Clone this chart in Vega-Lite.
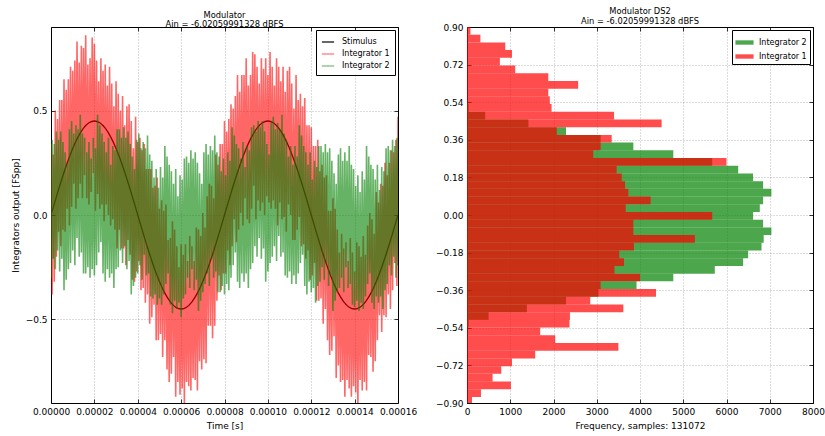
{
  "$schema": "https://vega.github.io/schema/vega-lite/v6.json",
  "autosize": {"type": "pad"},
  "padding": {"left": 10, "top": 6, "right": 0, "bottom": 0},
  "bounds": "flush",
  "spacing": 69,
  "config": {
    "font": "DejaVu Sans",
    "view": {"stroke": "#000000", "strokeWidth": 1},
    "axis": {
      "labelFontSize": 9, "titleFontSize": 9, "titleFontWeight": "normal",
      "labelColor": "#000000", "titleColor": "#000000",
      "domain": false, "tickColor": "#000000", "tickWidth": 0.8,
      "tickSize": -4, "labelPadding": 8, "titlePadding": 5,
      "gridColor": "#000000", "gridOpacity": 0.35, "gridDash": [1, 2], "gridWidth": 0.8,
      "zindex": 1, "labelFlush": false, "labelOverlap": false
    },
    "title": {"fontSize": 8.3, "fontWeight": "normal", "color": "#000000", "offset": -2, "lineHeight": 9.5, "anchor": "middle", "frame": "group"}
  },
  "resolve": {"scale": {"x": "independent", "y": "independent", "color": "independent"}, "legend": {"color": "independent"}},
  "datasets": {
    "stimulus": [
      {"t":0,"v":0},{"t":2.5e-6,"v":0.0878},{"t":5e-6,"v":0.1722},{"t":7.5e-6,"v":0.25},{"t":1e-5,"v":0.3182},{"t":1.25e-5,"v":0.3742},{"t":1.5e-5,"v":0.4157},{"t":1.75e-5,"v":0.4414},
      {"t":2e-5,"v":0.45},{"t":2.25e-5,"v":0.4414},{"t":2.5e-5,"v":0.4157},{"t":2.75e-5,"v":0.3742},{"t":3e-5,"v":0.3182},{"t":3.25e-5,"v":0.25},{"t":3.5e-5,"v":0.1722},{"t":3.75e-5,"v":0.0878},
      {"t":4e-5,"v":0},{"t":4.25e-5,"v":-0.0878},{"t":4.5e-5,"v":-0.1722},{"t":4.75e-5,"v":-0.25},{"t":5e-5,"v":-0.3182},{"t":5.25e-5,"v":-0.3742},{"t":5.5e-5,"v":-0.4157},{"t":5.75e-5,"v":-0.4414},
      {"t":6e-5,"v":-0.45},{"t":6.25e-5,"v":-0.4414},{"t":6.5e-5,"v":-0.4157},{"t":6.75e-5,"v":-0.3742},{"t":7e-5,"v":-0.3182},{"t":7.25e-5,"v":-0.25},{"t":7.5e-5,"v":-0.1722},{"t":7.75e-5,"v":-0.0878},
      {"t":8e-5,"v":0},{"t":8.25e-5,"v":0.0878},{"t":8.5e-5,"v":0.1722},{"t":8.75e-5,"v":0.25},{"t":9e-5,"v":0.3182},{"t":9.25e-5,"v":0.3742},{"t":9.5e-5,"v":0.4157},{"t":9.75e-5,"v":0.4414},
      {"t":1e-4,"v":0.45},{"t":1.025e-4,"v":0.4414},{"t":1.05e-4,"v":0.4157},{"t":1.075e-4,"v":0.3742},{"t":1.1e-4,"v":0.3182},{"t":1.125e-4,"v":0.25},{"t":1.15e-4,"v":0.1722},{"t":1.175e-4,"v":0.0878},
      {"t":1.2e-4,"v":0},{"t":1.225e-4,"v":-0.0878},{"t":1.25e-4,"v":-0.1722},{"t":1.275e-4,"v":-0.25},{"t":1.3e-4,"v":-0.3182},{"t":1.325e-4,"v":-0.3742},{"t":1.35e-4,"v":-0.4157},{"t":1.375e-4,"v":-0.4414},
      {"t":1.4e-4,"v":-0.45},{"t":1.425e-4,"v":-0.4414},{"t":1.45e-4,"v":-0.4157},{"t":1.475e-4,"v":-0.3742},{"t":1.5e-4,"v":-0.3182},{"t":1.525e-4,"v":-0.25},{"t":1.55e-4,"v":-0.1722},{"t":1.575e-4,"v":-0.0878},
      {"t":1.6e-4,"v":0}
    ],
    "integrators": [
      {"t":0,"a":0.34,"b":-0.30},{"t":5e-7,"a":-0.38,"b":0.36},{"t":1e-6,"a":0.29,"b":-0.21},{"t":1.5e-6,"a":-0.32,"b":0.34},{"t":2e-6,"a":0.50,"b":-0.26},
      {"t":2.5e-6,"a":-0.20,"b":0.40},{"t":3e-6,"a":0.46,"b":-0.17},{"t":3.5e-6,"a":-0.08,"b":0.36},{"t":4e-6,"a":0.55,"b":-0.27},{"t":4.5e-6,"a":-0.15,"b":0.40},
      {"t":5e-6,"a":0.55,"b":-0.21},{"t":5.5e-6,"a":-0.07,"b":0.35},{"t":6e-6,"a":0.65,"b":-0.36},{"t":6.5e-6,"a":-0.08,"b":0.30},{"t":7e-6,"a":0.60,"b":-0.31},
      {"t":7.5e-6,"a":0.03,"b":0.25},{"t":8e-6,"a":0.65,"b":-0.26},{"t":8.5e-6,"a":-0.05,"b":0.41},{"t":9e-6,"a":0.71,"b":-0.23},{"t":9.5e-6,"a":0.04,"b":0.45},
      {"t":1e-5,"a":0.69,"b":-0.17},{"t":1.05e-5,"a":0.15,"b":0.39},{"t":1.1e-5,"a":0.74,"b":-0.24},{"t":1.15e-5,"a":0.03,"b":0.43},{"t":1.2e-5,"a":0.83,"b":-0.11},
      {"t":1.25e-5,"a":0.08,"b":0.41},{"t":1.3e-5,"a":0.73,"b":-0.20},{"t":1.35e-5,"a":0.15,"b":0.48},{"t":1.4e-5,"a":0.81,"b":-0.18},{"t":1.45e-5,"a":0.08,"b":0.39},
      {"t":1.5e-5,"a":0.80,"b":-0.28},{"t":1.55e-5,"a":0.19,"b":0.37},{"t":1.6e-5,"a":0.86,"b":-0.28},{"t":1.65e-5,"a":0.08,"b":0.30},{"t":1.7e-5,"a":0.72,"b":-0.25},
      {"t":1.75e-5,"a":0.05,"b":0.35},{"t":1.8e-5,"a":0.75,"b":-0.30},{"t":1.85e-5,"a":0.11,"b":0.27},{"t":1.9e-5,"a":0.85,"b":-0.26},{"t":1.95e-5,"a":0.20,"b":0.37},
      {"t":2e-5,"a":0.82,"b":-0.29},{"t":2.05e-5,"a":0.02,"b":0.32},{"t":2.1e-5,"a":0.74,"b":-0.24},{"t":2.15e-5,"a":0.10,"b":0.48},{"t":2.2e-5,"a":0.64,"b":-0.18},
      {"t":2.25e-5,"a":0.03,"b":0.43},{"t":2.3e-5,"a":0.75,"b":-0.13},{"t":2.35e-5,"a":0.05,"b":0.39},{"t":2.4e-5,"a":0.69,"b":-0.28},{"t":2.45e-5,"a":-0.03,"b":0.35},
      {"t":2.5e-5,"a":0.72,"b":-0.32},{"t":2.55e-5,"a":0.05,"b":0.30},{"t":2.6e-5,"a":0.62,"b":-0.26},{"t":2.65e-5,"a":0.00,"b":0.37},{"t":2.7e-5,"a":0.71,"b":-0.30},
      {"t":2.75e-5,"a":-0.05,"b":0.24},{"t":2.8e-5,"a":0.63,"b":-0.28},{"t":2.85e-5,"a":-0.02,"b":0.33},{"t":2.9e-5,"a":0.52,"b":-0.35},{"t":2.95e-5,"a":-0.07,"b":0.31},
      {"t":3e-5,"a":0.64,"b":-0.26},{"t":3.05e-5,"a":-0.16,"b":0.41},{"t":3.1e-5,"a":0.58,"b":-0.25},{"t":3.15e-5,"a":-0.07,"b":0.41},{"t":3.2e-5,"a":0.50,"b":-0.17},
      {"t":3.25e-5,"a":-0.16,"b":0.37},{"t":3.3e-5,"a":0.57,"b":-0.23},{"t":3.35e-5,"a":-0.16,"b":0.42},{"t":3.4e-5,"a":0.43,"b":-0.15},{"t":3.45e-5,"a":-0.24,"b":0.37},
      {"t":3.5e-5,"a":0.52,"b":-0.26},{"t":3.55e-5,"a":-0.12,"b":0.40},{"t":3.6e-5,"a":0.53,"b":-0.22},{"t":3.65e-5,"a":-0.19,"b":0.34},{"t":3.7e-5,"a":0.45,"b":-0.38},
      {"t":3.75e-5,"a":-0.31,"b":0.28},{"t":3.8e-5,"a":0.32,"b":-0.34},{"t":3.85e-5,"a":-0.32,"b":0.22},{"t":3.9e-5,"a":0.47,"b":-0.30},{"t":3.95e-5,"a":-0.27,"b":0.36},
      {"t":4e-5,"a":0.35,"b":-0.28},{"t":4.05e-5,"a":-0.22,"b":0.39},{"t":4.1e-5,"a":0.37,"b":-0.24},{"t":4.15e-5,"a":-0.36,"b":0.32},{"t":4.2e-5,"a":0.31,"b":-0.31},
      {"t":4.25e-5,"a":-0.35,"b":0.35},{"t":4.3e-5,"a":0.34,"b":-0.19},{"t":4.35e-5,"a":-0.42,"b":0.32},{"t":4.4e-5,"a":0.22,"b":-0.29},{"t":4.45e-5,"a":-0.38,"b":0.38},
      {"t":4.5e-5,"a":0.22,"b":-0.28},{"t":4.55e-5,"a":-0.52,"b":0.29},{"t":4.6e-5,"a":0.22,"b":-0.39},{"t":4.65e-5,"a":-0.49,"b":0.26},{"t":4.7e-5,"a":0.13,"b":-0.40},
      {"t":4.75e-5,"a":-0.43,"b":0.18},{"t":4.8e-5,"a":0.14,"b":-0.38},{"t":4.85e-5,"a":-0.60,"b":0.22},{"t":4.9e-5,"a":0.18,"b":-0.43},{"t":4.95e-5,"a":-0.60,"b":0.13},
      {"t":5e-5,"a":0.03,"b":-0.40},{"t":5.05e-5,"a":-0.57,"b":0.23},{"t":5.1e-5,"a":0.07,"b":-0.43},{"t":5.15e-5,"a":-0.68,"b":0.18},{"t":5.2e-5,"a":0.02,"b":-0.38},
      {"t":5.25e-5,"a":-0.60,"b":0.33},{"t":5.3e-5,"a":0.05,"b":-0.33},{"t":5.35e-5,"a":-0.74,"b":0.28},{"t":5.4e-5,"a":-0.12,"b":-0.28},{"t":5.45e-5,"a":-0.80,"b":0.24},
      {"t":5.5e-5,"a":-0.11,"b":-0.43},{"t":5.55e-5,"a":-0.76,"b":0.21},{"t":5.6e-5,"a":-0.03,"b":-0.47},{"t":5.65e-5,"a":-0.68,"b":0.15},{"t":5.7e-5,"a":-0.07,"b":-0.41},
      {"t":5.75e-5,"a":-0.87,"b":0.22},{"t":5.8e-5,"a":-0.15,"b":-0.45},{"t":5.85e-5,"a":-0.80,"b":0.09},{"t":5.9e-5,"a":-0.25,"b":-0.42},{"t":5.95e-5,"a":-0.86,"b":0.19},
      {"t":6e-5,"a":-0.14,"b":-0.49},{"t":6.05e-5,"a":-0.83,"b":0.17},{"t":6.1e-5,"a":-0.19,"b":-0.40},{"t":6.15e-5,"a":-0.90,"b":0.27},{"t":6.2e-5,"a":-0.14,"b":-0.38},
      {"t":6.25e-5,"a":-0.80,"b":0.28},{"t":6.3e-5,"a":-0.22,"b":-0.30},{"t":6.35e-5,"a":-0.82,"b":0.25},{"t":6.4e-5,"a":-0.10,"b":-0.35},{"t":6.45e-5,"a":-0.84,"b":0.31},
      {"t":6.5e-5,"a":-0.15,"b":-0.26},{"t":6.55e-5,"a":-0.78,"b":0.27},{"t":6.6e-5,"a":-0.22,"b":-0.36},{"t":6.65e-5,"a":-0.79,"b":0.30},{"t":6.7e-5,"a":-0.06,"b":-0.31},
      {"t":6.75e-5,"a":-0.84,"b":0.25},{"t":6.8e-5,"a":-0.07,"b":-0.46},{"t":6.85e-5,"a":-0.70,"b":0.20},{"t":6.9e-5,"a":-0.10,"b":-0.41},{"t":6.95e-5,"a":-0.74,"b":0.15},
      {"t":7e-5,"a":0.01,"b":-0.37},{"t":7.05e-5,"a":-0.69,"b":0.30},{"t":7.1e-5,"a":-0.06,"b":-0.33},{"t":7.15e-5,"a":-0.71,"b":0.34},{"t":7.2e-5,"a":0.09,"b":-0.28},
      {"t":7.25e-5,"a":-0.53,"b":0.29},{"t":7.3e-5,"a":0.15,"b":-0.34},{"t":7.35e-5,"a":-0.53,"b":0.33},{"t":7.4e-5,"a":0.14,"b":-0.21},{"t":7.45e-5,"a":-0.59,"b":0.31},
      {"t":7.5e-5,"a":0.08,"b":-0.30},{"t":7.55e-5,"a":-0.53,"b":0.38},{"t":7.6e-5,"a":0.29,"b":-0.27},{"t":7.65e-5,"a":-0.41,"b":0.30},{"t":7.7e-5,"a":0.24,"b":-0.37},
      {"t":7.75e-5,"a":-0.29,"b":0.28},{"t":7.8e-5,"a":0.34,"b":-0.37},{"t":7.85e-5,"a":-0.36,"b":0.21},{"t":7.9e-5,"a":0.34,"b":-0.34},{"t":7.95e-5,"a":-0.28,"b":0.27},
      {"t":8e-5,"a":0.45,"b":-0.38},{"t":8.05e-5,"a":-0.28,"b":0.19},{"t":8.1e-5,"a":0.40,"b":-0.33},{"t":8.15e-5,"a":-0.17,"b":0.30},{"t":8.2e-5,"a":0.46,"b":-0.36},
      {"t":8.25e-5,"a":-0.24,"b":0.26},{"t":8.3e-5,"a":0.53,"b":-0.30},{"t":8.35e-5,"a":-0.15,"b":0.42},{"t":8.4e-5,"a":0.51,"b":-0.24},{"t":8.45e-5,"a":-0.02,"b":0.38},
      {"t":8.5e-5,"a":0.57,"b":-0.18},{"t":8.55e-5,"a":-0.13,"b":0.34},{"t":8.6e-5,"a":0.67,"b":-0.32},{"t":8.65e-5,"a":-0.07,"b":0.32},{"t":8.7e-5,"a":0.59,"b":-0.35},
      {"t":8.75e-5,"a":0.01,"b":0.27},{"t":8.8e-5,"a":0.67,"b":-0.28},{"t":8.85e-5,"a":-0.05,"b":0.35},{"t":8.9e-5,"a":0.67,"b":-0.32},{"t":8.95e-5,"a":0.08,"b":0.23},
      {"t":9e-5,"a":0.75,"b":-0.28},{"t":9.05e-5,"a":-0.02,"b":0.33},{"t":9.1e-5,"a":0.62,"b":-0.35},{"t":9.15e-5,"a":-0.04,"b":0.31},{"t":9.2e-5,"a":0.67,"b":-0.26},
      {"t":9.25e-5,"a":0.03,"b":0.42},{"t":9.3e-5,"a":0.78,"b":-0.23},{"t":9.35e-5,"a":0.14,"b":0.43},{"t":9.4e-5,"a":0.77,"b":-0.15},{"t":9.45e-5,"a":-0.02,"b":0.40},
      {"t":9.5e-5,"a":0.71,"b":-0.20},{"t":9.55e-5,"a":0.07,"b":0.45},{"t":9.6e-5,"a":0.63,"b":-0.11},{"t":9.65e-5,"a":0.02,"b":0.42},{"t":9.7e-5,"a":0.75,"b":-0.21},
      {"t":9.75e-5,"a":0.06,"b":0.45},{"t":9.8e-5,"a":0.70,"b":-0.16},{"t":9.85e-5,"a":0.00,"b":0.40},{"t":9.9e-5,"a":0.75,"b":-0.32},{"t":9.95e-5,"a":0.09,"b":0.34},
      {"t":1e-4,"a":0.67,"b":-0.27},{"t":1.005e-4,"a":0.06,"b":0.29},{"t":1.01e-4,"a":0.78,"b":-0.23},{"t":1.015e-4,"a":0.03,"b":0.44},{"t":1.02e-4,"a":0.71,"b":-0.20},
      {"t":1.025e-4,"a":0.07,"b":0.47},{"t":1.03e-4,"a":0.62,"b":-0.15},{"t":1.035e-4,"a":0.03,"b":0.41},{"t":1.04e-4,"a":0.75,"b":-0.22},{"t":1.045e-4,"a":-0.05,"b":0.44},
      {"t":1.05e-4,"a":0.71,"b":-0.10},{"t":1.055e-4,"a":0.06,"b":0.41},{"t":1.06e-4,"a":0.64,"b":-0.20},{"t":1.065e-4,"a":-0.02,"b":0.48},{"t":1.07e-4,"a":0.71,"b":-0.18},
      {"t":1.075e-4,"a":-0.01,"b":0.39},{"t":1.08e-4,"a":0.59,"b":-0.29},{"t":1.085e-4,"a":-0.08,"b":0.36},{"t":1.09e-4,"a":0.69,"b":-0.30},{"t":1.095e-4,"a":0.05,"b":0.28},
      {"t":1.1e-4,"a":0.71,"b":-0.27},{"t":1.105e-4,"a":0.00,"b":0.33},{"t":1.11e-4,"a":0.63,"b":-0.33},{"t":1.115e-4,"a":-0.12,"b":0.24},{"t":1.12e-4,"a":0.51,"b":-0.29},
      {"t":1.125e-4,"a":-0.12,"b":0.33},{"t":1.13e-4,"a":0.67,"b":-0.33},{"t":1.135e-4,"a":-0.07,"b":0.28},{"t":1.14e-4,"a":0.55,"b":-0.28},{"t":1.145e-4,"a":-0.01,"b":0.43},
      {"t":1.15e-4,"a":0.58,"b":-0.23},{"t":1.155e-4,"a":-0.15,"b":0.38},{"t":1.16e-4,"a":0.52,"b":-0.19},{"t":1.165e-4,"a":-0.14,"b":0.33},{"t":1.17e-4,"a":0.56,"b":-0.34},
      {"t":1.175e-4,"a":-0.21,"b":0.30},{"t":1.18e-4,"a":0.43,"b":-0.38},{"t":1.185e-4,"a":-0.17,"b":0.24},{"t":1.19e-4,"a":0.43,"b":-0.32},{"t":1.195e-4,"a":-0.31,"b":0.30},
      {"t":1.2e-4,"a":0.42,"b":-0.37},{"t":1.205e-4,"a":-0.29,"b":0.17},{"t":1.21e-4,"a":0.33,"b":-0.35},{"t":1.215e-4,"a":-0.23,"b":0.26},{"t":1.22e-4,"a":0.33,"b":-0.42},
      {"t":1.225e-4,"a":-0.41,"b":0.23},{"t":1.23e-4,"a":0.36,"b":-0.34},{"t":1.235e-4,"a":-0.41,"b":0.33},{"t":1.24e-4,"a":0.21,"b":-0.32},{"t":1.245e-4,"a":-0.40,"b":0.33},
      {"t":1.25e-4,"a":0.24,"b":-0.25},{"t":1.255e-4,"a":-0.52,"b":0.30},{"t":1.26e-4,"a":0.18,"b":-0.31},{"t":1.265e-4,"a":-0.45,"b":0.34},{"t":1.27e-4,"a":0.19,"b":-0.23},
      {"t":1.275e-4,"a":-0.60,"b":0.30},{"t":1.28e-4,"a":0.02,"b":-0.34},{"t":1.285e-4,"a":-0.67,"b":0.32},{"t":1.29e-4,"a":0.02,"b":-0.29},{"t":1.295e-4,"a":-0.65,"b":0.26},
      {"t":1.3e-4,"a":0.08,"b":-0.46},{"t":1.305e-4,"a":-0.58,"b":0.20},{"t":1.31e-4,"a":0.03,"b":-0.41},{"t":1.315e-4,"a":-0.78,"b":0.15},{"t":1.32e-4,"a":-0.07,"b":-0.37},
      {"t":1.325e-4,"a":-0.72,"b":0.29},{"t":1.33e-4,"a":-0.18,"b":-0.35},{"t":1.335e-4,"a":-0.80,"b":0.32},{"t":1.34e-4,"a":-0.09,"b":-0.30},{"t":1.345e-4,"a":-0.79,"b":0.26},
      {"t":1.35e-4,"a":-0.16,"b":-0.37},{"t":1.355e-4,"a":-0.87,"b":0.30},{"t":1.36e-4,"a":-0.13,"b":-0.25},{"t":1.365e-4,"a":-0.79,"b":0.26},{"t":1.37e-4,"a":-0.22,"b":-0.35},
      {"t":1.375e-4,"a":-0.83,"b":0.33},{"t":1.38e-4,"a":-0.11,"b":-0.33},{"t":1.385e-4,"a":-0.87,"b":0.24},{"t":1.39e-4,"a":-0.18,"b":-0.43},{"t":1.395e-4,"a":-0.82,"b":0.22},
      {"t":1.4e-4,"a":-0.27,"b":-0.44},{"t":1.405e-4,"a":-0.85,"b":0.14},{"t":1.41e-4,"a":-0.13,"b":-0.41},{"t":1.415e-4,"a":-0.92,"b":0.19},{"t":1.42e-4,"a":-0.15,"b":-0.46},
      {"t":1.425e-4,"a":-0.79,"b":0.11},{"t":1.43e-4,"a":-0.20,"b":-0.42},{"t":1.435e-4,"a":-0.84,"b":0.21},{"t":1.44e-4,"a":-0.10,"b":-0.45},{"t":1.445e-4,"a":-0.80,"b":0.17},
      {"t":1.45e-4,"a":-0.19,"b":-0.39},{"t":1.455e-4,"a":-0.84,"b":0.33},{"t":1.46e-4,"a":-0.05,"b":-0.33},{"t":1.465e-4,"a":-0.67,"b":0.28},{"t":1.47e-4,"a":0.01,"b":-0.28},
      {"t":1.475e-4,"a":-0.68,"b":0.24},{"t":1.48e-4,"a":-0.02,"b":-0.42},{"t":1.485e-4,"a":-0.75,"b":0.22},{"t":1.49e-4,"a":-0.09,"b":-0.45},{"t":1.495e-4,"a":-0.70,"b":0.17},
      {"t":1.5e-4,"a":0.11,"b":-0.39},{"t":1.505e-4,"a":-0.60,"b":0.24},{"t":1.51e-4,"a":0.06,"b":-0.42},{"t":1.515e-4,"a":-0.48,"b":0.12},{"t":1.52e-4,"a":0.15,"b":-0.39},
      {"t":1.525e-4,"a":-0.56,"b":0.23},{"t":1.53e-4,"a":0.14,"b":-0.45},{"t":1.535e-4,"a":-0.48,"b":0.21},{"t":1.54e-4,"a":0.25,"b":-0.36},{"t":1.545e-4,"a":-0.49,"b":0.32},
      {"t":1.55e-4,"a":0.19,"b":-0.33},{"t":1.555e-4,"a":-0.38,"b":0.33},{"t":1.56e-4,"a":0.25,"b":-0.24},{"t":1.565e-4,"a":-0.45,"b":0.31},{"t":1.57e-4,"a":0.31,"b":-0.29},
      {"t":1.575e-4,"a":-0.36,"b":0.36},{"t":1.58e-4,"a":0.30,"b":-0.20},{"t":1.585e-4,"a":-0.23,"b":0.33},{"t":1.59e-4,"a":0.36,"b":-0.30},{"t":1.595e-4,"a":-0.34,"b":0.37},
      {"t":1.6e-4,"a":0.47,"b":-0.24}
    ],
    "hist": [
      {"s":"Integrator 2","lo":0.4941,"hi":0.531,"n":40},
      {"s":"Integrator 2","lo":0.4572,"hi":0.4941,"n":420},
      {"s":"Integrator 2","lo":0.4203,"hi":0.4572,"n":1420},
      {"s":"Integrator 2","lo":0.3834,"hi":0.4203,"n":2290},
      {"s":"Integrator 2","lo":0.3465,"hi":0.3834,"n":3090},
      {"s":"Integrator 2","lo":0.3096,"hi":0.3465,"n":3846},
      {"s":"Integrator 2","lo":0.2727,"hi":0.3096,"n":4770},
      {"s":"Integrator 2","lo":0.2358,"hi":0.2727,"n":5670},
      {"s":"Integrator 2","lo":0.1989,"hi":0.2358,"n":6270},
      {"s":"Integrator 2","lo":0.162,"hi":0.1989,"n":6615},
      {"s":"Integrator 2","lo":0.1251,"hi":0.162,"n":6846},
      {"s":"Integrator 2","lo":0.0882,"hi":0.1251,"n":7038},
      {"s":"Integrator 2","lo":0.0513,"hi":0.0882,"n":6846},
      {"s":"Integrator 2","lo":0.0144,"hi":0.0513,"n":6770},
      {"s":"Integrator 2","lo":-0.0225,"hi":0.0144,"n":6615},
      {"s":"Integrator 2","lo":-0.0594,"hi":-0.0225,"n":6846},
      {"s":"Integrator 2","lo":-0.0963,"hi":-0.0594,"n":7038},
      {"s":"Integrator 2","lo":-0.1332,"hi":-0.0963,"n":6860},
      {"s":"Integrator 2","lo":-0.1701,"hi":-0.1332,"n":6810},
      {"s":"Integrator 2","lo":-0.207,"hi":-0.1701,"n":6500},
      {"s":"Integrator 2","lo":-0.2439,"hi":-0.207,"n":6385},
      {"s":"Integrator 2","lo":-0.2808,"hi":-0.2439,"n":5730},
      {"s":"Integrator 2","lo":-0.3177,"hi":-0.2808,"n":4770},
      {"s":"Integrator 2","lo":-0.3546,"hi":-0.3177,"n":3920},
      {"s":"Integrator 2","lo":-0.3915,"hi":-0.3546,"n":3040},
      {"s":"Integrator 2","lo":-0.4284,"hi":-0.3915,"n":2290},
      {"s":"Integrator 2","lo":-0.4653,"hi":-0.4284,"n":1385},
      {"s":"Integrator 2","lo":-0.5022,"hi":-0.4653,"n":500},
      {"s":"Integrator 2","lo":-0.5391,"hi":-0.5022,"n":40},
      {"s":"Integrator 1","lo":0.8631,"hi":0.9,"n":80},
      {"s":"Integrator 1","lo":0.8262,"hi":0.8631,"n":310},
      {"s":"Integrator 1","lo":0.7893,"hi":0.8262,"n":885},
      {"s":"Integrator 1","lo":0.7524,"hi":0.7893,"n":1040},
      {"s":"Integrator 1","lo":0.7155,"hi":0.7524,"n":760},
      {"s":"Integrator 1","lo":0.6786,"hi":0.7155,"n":1115},
      {"s":"Integrator 1","lo":0.6417,"hi":0.6786,"n":1880},
      {"s":"Integrator 1","lo":0.6048,"hi":0.6417,"n":2570},
      {"s":"Integrator 1","lo":0.5679,"hi":0.6048,"n":1880},
      {"s":"Integrator 1","lo":0.531,"hi":0.5679,"n":1915},
      {"s":"Integrator 1","lo":0.4941,"hi":0.531,"n":1955},
      {"s":"Integrator 1","lo":0.4572,"hi":0.4941,"n":3400},
      {"s":"Integrator 1","lo":0.4203,"hi":0.4572,"n":4500},
      {"s":"Integrator 1","lo":0.3834,"hi":0.4203,"n":2077},
      {"s":"Integrator 1","lo":0.3465,"hi":0.3834,"n":3346},
      {"s":"Integrator 1","lo":0.3096,"hi":0.3465,"n":3090},
      {"s":"Integrator 1","lo":0.2727,"hi":0.3096,"n":2920},
      {"s":"Integrator 1","lo":0.2358,"hi":0.2727,"n":6000},
      {"s":"Integrator 1","lo":0.1989,"hi":0.2358,"n":3460},
      {"s":"Integrator 1","lo":0.162,"hi":0.1989,"n":3577},
      {"s":"Integrator 1","lo":0.1251,"hi":0.162,"n":3654},
      {"s":"Integrator 1","lo":0.0882,"hi":0.1251,"n":3730},
      {"s":"Integrator 1","lo":0.0513,"hi":0.0882,"n":4246},
      {"s":"Integrator 1","lo":0.0144,"hi":0.0513,"n":3670},
      {"s":"Integrator 1","lo":-0.0225,"hi":0.0144,"n":5670},
      {"s":"Integrator 1","lo":-0.0594,"hi":-0.0225,"n":3846},
      {"s":"Integrator 1","lo":-0.0963,"hi":-0.0594,"n":3846},
      {"s":"Integrator 1","lo":-0.1332,"hi":-0.0963,"n":5270},
      {"s":"Integrator 1","lo":-0.1701,"hi":-0.1332,"n":3860},
      {"s":"Integrator 1","lo":-0.207,"hi":-0.1701,"n":3520},
      {"s":"Integrator 1","lo":-0.2439,"hi":-0.207,"n":3630},
      {"s":"Integrator 1","lo":-0.2808,"hi":-0.2439,"n":3410},
      {"s":"Integrator 1","lo":-0.3177,"hi":-0.2808,"n":4000},
      {"s":"Integrator 1","lo":-0.3546,"hi":-0.3177,"n":3090},
      {"s":"Integrator 1","lo":-0.3915,"hi":-0.3546,"n":4370},
      {"s":"Integrator 1","lo":-0.4284,"hi":-0.3915,"n":2850},
      {"s":"Integrator 1","lo":-0.4653,"hi":-0.4284,"n":3615},
      {"s":"Integrator 1","lo":-0.5022,"hi":-0.4653,"n":2380},
      {"s":"Integrator 1","lo":-0.5391,"hi":-0.5022,"n":2370},
      {"s":"Integrator 1","lo":-0.576,"hi":-0.5391,"n":1692},
      {"s":"Integrator 1","lo":-0.6129,"hi":-0.576,"n":2040},
      {"s":"Integrator 1","lo":-0.6498,"hi":-0.6129,"n":3500},
      {"s":"Integrator 1","lo":-0.6867,"hi":-0.6498,"n":1577},
      {"s":"Integrator 1","lo":-0.7236,"hi":-0.6867,"n":1040},
      {"s":"Integrator 1","lo":-0.7605,"hi":-0.7236,"n":792},
      {"s":"Integrator 1","lo":-0.7974,"hi":-0.7605,"n":592},
      {"s":"Integrator 1","lo":-0.8343,"hi":-0.7974,"n":1015},
      {"s":"Integrator 1","lo":-0.8712,"hi":-0.8343,"n":323},
      {"s":"Integrator 1","lo":-0.9081,"hi":-0.8712,"n":115},
      {"s":"Integrator 1","lo":-0.945,"hi":-0.9081,"n":20}
    ]
  },
  "hconcat": [
    {
      "width": 347,
      "height": 376,
      "title": {"text": ["Modulator", "Ain = -6.02059991328 dBFS"]},
      "resolve": {"axis": {"x": "independent", "y": "independent"}},
      "layer": [
        {
          "data": {"name": "stimulus"},
          "mark": {"type": "line", "strokeWidth": 1.3, "interpolate": "natural", "clip": true},
          "encoding": {
            "x": {"field": "t", "type": "quantitative", "title": "Time [s]",
                  "scale": {"domain": [0, 0.00016], "nice": false, "zero": false},
                  "axis": {"values": [0, 0.00002, 0.00004, 0.00006, 0.00008, 0.0001, 0.00012, 0.00014, 0.00016], "format": ".5f"}},
            "y": {"field": "v", "type": "quantitative", "title": "Integrators output [FSpp]",
                  "scale": {"domain": [-0.9, 0.9], "nice": false, "zero": false},
                  "axis": {"values": [-0.5, 0, 0.5], "format": ".1f"}},
            "color": {"datum": "Stimulus", "type": "nominal",
                      "scale": {"domain": ["Stimulus", "Integrator 1", "Integrator 2"], "range": ["#000000", "#ff0000", "#008000"]},
                      "legend": {"title": null, "orient": "top-right", "offset": 3, "padding": 5,
                                 "strokeColor": "#000000", "fillColor": "#ffffff",
                                 "symbolType": "stroke", "symbolSize": 150, "symbolStrokeWidth": 1.2,
                                 "labelFontSize": 8, "labelColor": "#000000", "labelOffset": 7, "rowPadding": 1,
                                 "encoding": {"symbols": {"opacity": {"value": {"expr": "datum.value === 'Stimulus' ? 1 : 0.55"}}}}}}
          }
        },
        {
          "data": {"name": "integrators"},
          "mark": {"type": "line", "strokeWidth": 1.6, "strokeJoin": "bevel", "opacity": 0.6, "clip": true},
          "encoding": {
            "x": {"field": "t", "type": "quantitative",
                  "axis": {"orient": "top", "labels": false, "title": null, "grid": false, "values": [0, 0.00002, 0.00004, 0.00006, 0.00008, 0.0001, 0.00012, 0.00014, 0.00016]}},
            "y": {"field": "a", "type": "quantitative",
                  "axis": {"orient": "right", "labels": false, "title": null, "grid": false, "values": [-0.5, 0, 0.5]}},
            "color": {"datum": "Integrator 1", "type": "nominal"}
          }
        },
        {
          "data": {"name": "integrators"},
          "mark": {"type": "line", "strokeWidth": 1.6, "strokeJoin": "bevel", "opacity": 0.6, "clip": true},
          "encoding": {
            "x": {"field": "t", "type": "quantitative", "axis": null},
            "y": {"field": "b", "type": "quantitative", "axis": null},
            "color": {"datum": "Integrator 2", "type": "nominal"}
          }
        }
      ]
    },
    {
      "width": 346,
      "height": 376,
      "title": {"text": ["Modulator DS2", "Ain = -6.02059991328 dBFS"]},
      "data": {"name": "hist"},
      "resolve": {"axis": {"x": "independent", "y": "independent"}},
      "layer": [
        {
          "transform": [{"filter": "datum.s === 'Integrator 2'"}],
          "mark": {"type": "rect", "opacity": 0.7, "clip": true},
          "encoding": {
            "x": {"field": "n", "type": "quantitative", "title": "Frequency, samples: 131072",
                  "scale": {"domain": [0, 8000], "nice": false},
                  "axis": {"values": [0, 1000, 2000, 3000, 4000, 5000, 6000, 7000, 8000], "format": "d"}},
            "x2": {"datum": 0},
            "y": {"field": "lo", "type": "quantitative", "title": null,
                  "scale": {"domain": [-0.9, 0.9], "nice": false, "zero": false},
                  "axis": {"values": [-0.9, -0.72, -0.54, -0.36, -0.18, 0, 0.18, 0.36, 0.54, 0.72, 0.9], "format": ".2f"}},
            "y2": {"field": "hi"},
            "color": {"field": "s", "type": "nominal",
                      "scale": {"domain": ["Integrator 2", "Integrator 1"], "range": ["#008000", "#ff0000"]},
                      "legend": {"title": null, "orient": "top-right", "offset": 3, "padding": 3,
                                 "strokeColor": "#000000", "fillColor": "#ffffff",
                                 "symbolType": "M-1,-0.24H1V0.24H-1Z", "symbolSize": 330, "symbolOpacity": 0.7, "symbolStrokeWidth": 0,
                                 "labelFontSize": 8, "labelColor": "#000000", "labelOffset": 5, "rowPadding": 0}}
          }
        },
        {
          "transform": [{"filter": "datum.s === 'Integrator 1'"}],
          "mark": {"type": "rect", "opacity": 0.7, "clip": true},
          "encoding": {
            "x": {"field": "n", "type": "quantitative",
                  "axis": {"orient": "top", "labels": false, "title": null, "grid": false, "values": [0, 1000, 2000, 3000, 4000, 5000, 6000, 7000, 8000]}},
            "x2": {"datum": 0},
            "y": {"field": "lo", "type": "quantitative",
                  "axis": {"orient": "right", "labels": false, "title": null, "grid": false, "values": [-0.9, -0.72, -0.54, -0.36, -0.18, 0, 0.18, 0.36, 0.54, 0.72, 0.9]}},
            "y2": {"field": "hi"},
            "color": {"field": "s", "type": "nominal"}
          }
        }
      ]
    }
  ]
}
